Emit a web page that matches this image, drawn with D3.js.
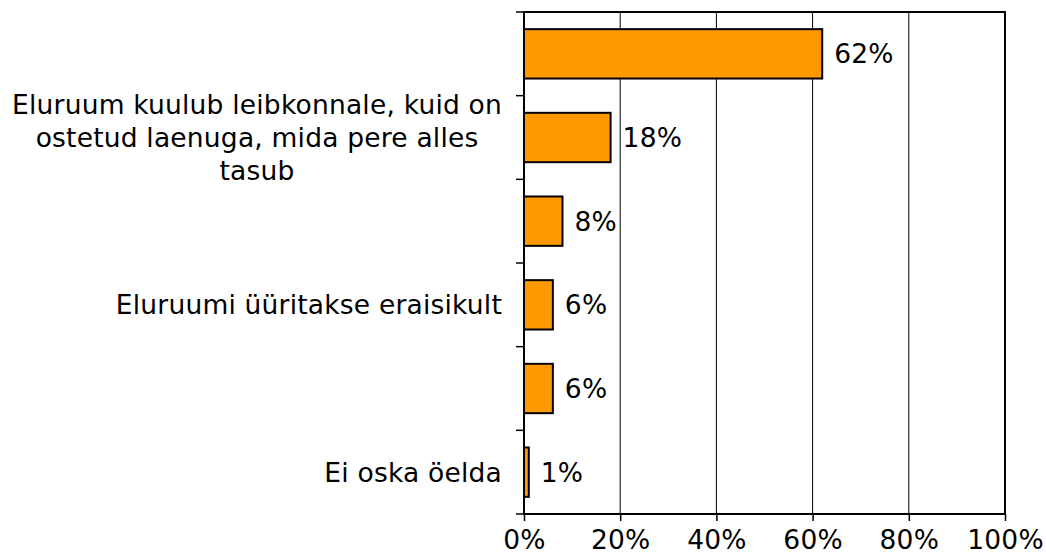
<!DOCTYPE html>
<html>
<head>
<meta charset="utf-8">
<script src="https://cdn.jsdelivr.net/npm/d3@7"></script>
<style>
  body { margin: 0; background: #fff; }
  text { font-family: "DejaVu Sans", Verdana, sans-serif; fill: #000; letter-spacing: 0.2px; }
</style>
</head>
<body>
<script>
// categories top to bottom; empty labels are hidden in the original chart
var categories = [
    "",
    "Eluruum kuulub leibkonnale, kuid on\nostetud laenuga, mida pere alles\ntasub",
    "",
    "Eluruumi üüritakse eraisikult",
    "",
    "Ei oska öelda"
];
var values = [62, 18, 8, 6, 6, 1];
var xTicks = [0, 20, 40, 60, 80, 100];

var W = 1046, H = 559;
var margin = {top: 12, right: 41, bottom: 45, left: 524};
var w = W - margin.left - margin.right;
var h = H - margin.top - margin.bottom;
var fontSize = "26.5px";

var svg = d3.select("body")
    .append("svg")
    .attr("width", W)
    .attr("height", H);

var g = svg.append("g")
    .attr("transform", "translate(" + margin.left + "," + margin.top + ")");

var x = d3.scaleLinear().domain([0, 100]).range([0, w]);
var y = d3.scaleBand()
    .domain(d3.range(categories.length))
    .range([0, h])
    .paddingInner(0.41)
    .paddingOuter(0.205);

// gridlines
g.selectAll("line.grid")
    .data(xTicks.slice(1, -1))
    .enter()
    .append("line")
    .attr("class", "grid")
    .attr("x1", function (d) { return x(d); })
    .attr("x2", function (d) { return x(d); })
    .attr("y1", 0)
    .attr("y2", h)
    .attr("stroke", "#000")
    .attr("stroke-width", 1);

// bars
g.selectAll("rect.bar")
    .data(values)
    .enter()
    .append("rect")
    .attr("class", "bar")
    .attr("x", x(0))
    .attr("y", function (d, i) { return y(i); })
    .attr("width", function (d) { return x(d) - x(0); })
    .attr("height", y.bandwidth())
    .attr("fill", "#FF9900")
    .attr("stroke", "#000")
    .attr("stroke-width", 2);

// value labels
g.selectAll("text.val")
    .data(values)
    .enter()
    .append("text")
    .attr("class", "val")
    .attr("x", function (d) { return x(d) + 12; })
    .attr("y", function (d, i) { return y(i) + y.bandwidth() / 2; })
    .attr("dy", "0.36em")
    .style("font-size", fontSize)
    .text(function (d) { return d + "%"; });

// plot frame
g.append("rect")
    .attr("x", 0).attr("y", 0)
    .attr("width", w).attr("height", h)
    .attr("fill", "none")
    .attr("stroke", "#000")
    .attr("stroke-width", 2);

// x axis
var xAxis = g.append("g")
    .attr("transform", "translate(0," + h + ")")
    .call(d3.axisBottom(x).tickValues(xTicks).tickSize(7).tickPadding(9)
        .tickFormat(function (d) { return d + "%"; }));
xAxis.select(".domain").remove();
xAxis.selectAll("line").attr("stroke", "#000").attr("stroke-width", 1.5);
xAxis.selectAll("text").style("font-size", fontSize).attr("fill", "#000");

// y axis ticks at band boundaries
g.selectAll("line.ytick")
    .data(d3.range(categories.length + 1))
    .enter()
    .append("line")
    .attr("class", "ytick")
    .attr("x1", -8).attr("x2", 0)
    .attr("y1", function (i) { return i * y.step(); })
    .attr("y2", function (i) { return i * y.step(); })
    .attr("stroke", "#000")
    .attr("stroke-width", 1.5);

// category labels
var lineH = 33;
var labels = g.selectAll("text.cat")
    .data(categories)
    .enter()
    .append("text")
    .attr("class", "cat")
    .attr("text-anchor", "middle")
    .style("font-size", fontSize);

labels.each(function (d, i) {
    if (!d) return;
    var lines = d.split("\n");
    var t = d3.select(this);
    var cy = y(i) + y.bandwidth() / 2;
    lines.forEach(function (ln, k) {
        t.append("tspan")
            .attr("x", 0)
            .attr("y", cy + (k - (lines.length - 1) / 2) * lineH)
            .attr("dy", "0.36em")
            .text(ln);
    });
    // centred block whose right edge sits near the axis
    var bw = this.getBBox().width;
    t.selectAll("tspan").attr("x", -22 - bw / 2);
});
</script>
</body>
</html>
